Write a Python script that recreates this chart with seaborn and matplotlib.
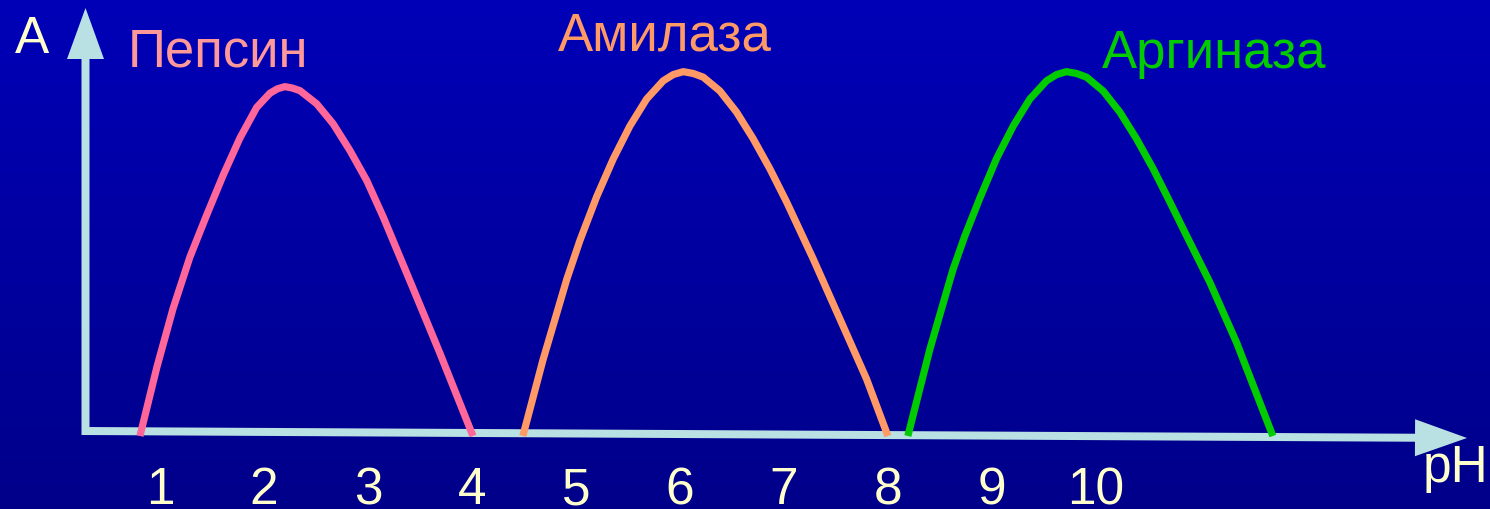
import numpy as np
import pandas as pd
import seaborn as sns
import matplotlib.pyplot as plt
from matplotlib.patches import FancyArrow
from matplotlib.transforms import IdentityTransform

# values: pH vs relative activity A
pepsin_ph = [0.808, 0.971, 1.125, 1.288, 1.449, 1.609, 1.769, 1.930, 2.058, 2.130, 2.202,
             2.274, 2.346, 2.507, 2.666, 2.827, 2.988, 3.147, 3.276, 3.436, 3.692, 4.010]
pepsin_act = [0.0, 0.189, 0.348, 0.490, 0.605, 0.715, 0.816, 0.900, 0.939, 0.951, 0.957,
              0.953, 0.946, 0.910, 0.855, 0.782, 0.700, 0.600, 0.512, 0.403, 0.227, 0.0]

amylase_ph = [4.490, 4.683, 4.913, 5.038, 5.199, 5.359, 5.519, 5.680, 5.840, 5.936, 6.032,
              6.128, 6.224, 6.385, 6.545, 6.705, 6.865, 7.026, 7.282, 7.538, 7.795, 8.000]
amylase_act = [0.0, 0.208, 0.430, 0.535, 0.655, 0.759, 0.849, 0.923, 0.973, 0.990, 0.998,
               0.993, 0.983, 0.945, 0.887, 0.814, 0.732, 0.641, 0.485, 0.321, 0.156, 0.0]

arginase_ph = [8.192, 8.404, 8.625, 8.740, 8.885, 9.045, 9.205, 9.365, 9.526, 9.622, 9.718,
               9.814, 9.910, 10.070, 10.231, 10.391, 10.551, 10.712, 10.840, 11.096, 11.353, 11.702]
arginase_act = [0.0, 0.238, 0.455, 0.548, 0.652, 0.760, 0.849, 0.923, 0.973, 0.990, 0.998,
                0.993, 0.983, 0.945, 0.887, 0.814, 0.732, 0.641, 0.567, 0.421, 0.256, 0.0]

enzymes = ["Пепсин", "Амилаза", "Аргиназа"]
tick_values = [1, 2, 3, 4, 5, 6, 7, 8, 9, 10]

line_colors = {"Пепсин": "#FF6699", "Амилаза": "#FF9966", "Аргиназа": "#00CC00"}
label_colors = {"Пепсин": "#FF9999", "Амилаза": "#FF9966", "Аргиназа": "#00CC00"}
cream = "#FFFFCC"
axis_color = "#B9E0E3"

df = pd.concat([
    pd.DataFrame({"pH": pepsin_ph, "A": pepsin_act, "enzyme": enzymes[0]}),
    pd.DataFrame({"pH": amylase_ph, "A": amylase_act, "enzyme": enzymes[1]}),
    pd.DataFrame({"pH": arginase_ph, "A": arginase_act, "enzyme": enzymes[2]}),
])

plt.rcParams["font.family"] = ["Liberation Sans", "DejaVu Sans"]

fig = plt.figure(figsize=(14.9, 5.1), dpi=100)
ax = fig.add_axes([0, 0, 1, 1])
xlim = (-0.538, 13.79)
ylim = (-0.2, 1.197)

# blue gradient background
grad = np.linspace(0, 1, 256)[:, None]
top = np.array([0.0, 0.0, 0.72])
bottom = np.array([0.0, 0.0, 0.54])
img = top[None, None, :] * (1 - grad[..., None]) + bottom[None, None, :] * grad[..., None]
ax.imshow(img, extent=(xlim[0], xlim[1], ylim[0], ylim[1]), aspect="auto", zorder=0)

# axis arrows, in figure pixels
ax.add_artist(FancyArrow(85.5, 74, 0, 427, width=8, head_width=37, head_length=51,
                         length_includes_head=True, color=axis_color, lw=0,
                         transform=IdentityTransform(), zorder=2))
ax.add_artist(FancyArrow(82, 78, 1385, -7, width=8, head_width=37, head_length=52,
                         length_includes_head=True, color=axis_color, lw=0,
                         transform=IdentityTransform(), zorder=2))

sns.lineplot(data=df, x="pH", y="A", hue="enzyme", palette=line_colors,
             linewidth=5.2, legend=False, sort=False, ax=ax, zorder=3,
             solid_capstyle="butt", solid_joinstyle="round")

ax.set_xlim(*xlim)
ax.set_ylim(*ylim)
ax.axis("off")

for v in tick_values:
    ax.text(v, -0.184, str(v), color=cream, fontsize=37, ha="center", va="baseline")

ax.text(-0.394, 1.052, "A", color=cream, fontsize=37, va="baseline")
ax.text(13.14, -0.123, "pH", color=cream, fontsize=37, va="baseline")

ax.text(0.692, 1.014, enzymes[0], color=label_colors[enzymes[0]], fontsize=38, va="baseline")
ax.text(4.827, 1.058, enzymes[1], color=label_colors[enzymes[1]], fontsize=38, va="baseline")
ax.text(10.06, 1.011, enzymes[2], color=label_colors[enzymes[2]], fontsize=38, va="baseline")

fig.savefig("out.png", dpi=100)
